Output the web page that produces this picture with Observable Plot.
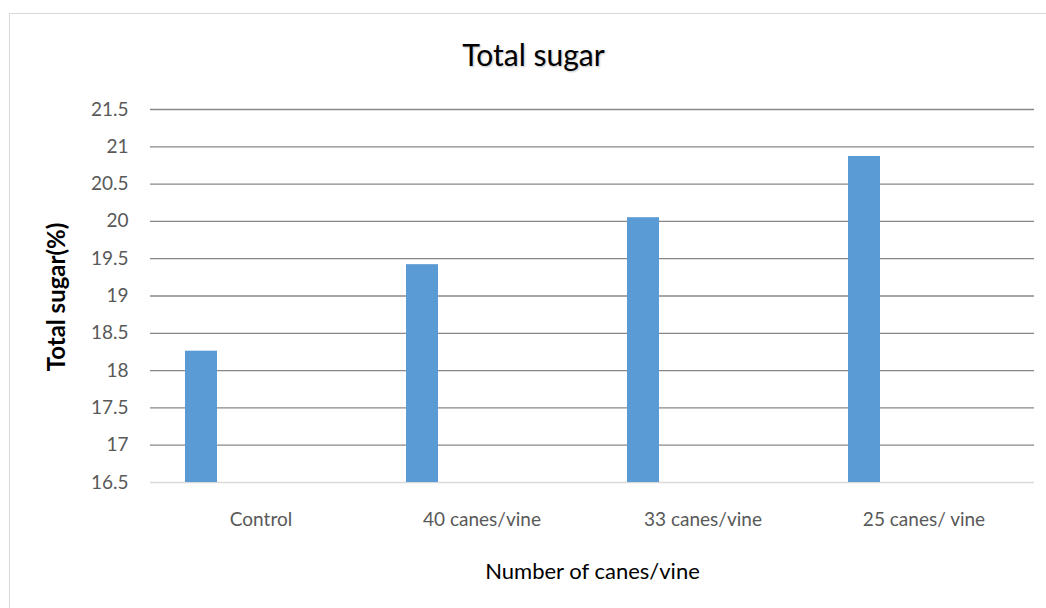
<!DOCTYPE html>
<html>
<head>
<meta charset="utf-8">
<script src="https://cdn.jsdelivr.net/npm/d3@7"></script>
<script src="https://cdn.jsdelivr.net/npm/@observablehq/plot@0.6"></script>
<style>
  body { margin: 0; background: #fff; font-family: Lato, "Open Sans", sans-serif; }
  #wrap { position: relative; width: 1046px; height: 608px; overflow: hidden; background: #fff; }
  #frame { position: absolute; left: 9px; top: 13px; width: 1100px; height: 700px; border: 1.5px solid #d9d9d9; box-sizing: border-box; }
  #title { position: absolute; left: 0; width: 1067px; top: 39px; text-align: center; font-size: 30px; line-height: 1; color: #000; text-shadow: 1px 1px 2px rgba(0,0,0,0.25); z-index: 2; }
  #chart { position: absolute; left: 0; top: 0; z-index: 1; }
</style>
</head>
<body>
<div id="wrap">
  <div id="frame"></div>
  <div id="title">Total sugar</div>
  <div id="chart"></div>
</div>
<script>
const categories = ["Control", "40 canes/vine", "33 canes/vine", "25 canes/ vine"];
const totalSugar = [18.26, 19.42, 20.05, 20.87];
const yTicks = [16.5, 17, 17.5, 18, 18.5, 19, 19.5, 20, 20.5, 21, 21.5];
const yLabel = "Total sugar(%)";
const xLabel = "Number of canes/vine";

const data = categories.map((c, i) => ({ category: c, value: totalSugar[i] }));

const chart = Plot.plot({
  width: 1046,
  height: 608,
  marginTop: 109,
  marginBottom: 126,
  marginLeft: 150,
  marginRight: 12,
  style: { fontFamily: "Lato, 'Open Sans', sans-serif", background: "transparent", overflow: "visible" },
  x: { domain: categories, padding: 0, label: null, axis: null },
  y: { domain: [16.5, 21.5], label: null, axis: null },
  marks: [
    Plot.gridY(yTicks.slice(1), { stroke: "#888888", strokeOpacity: 1, strokeWidth: 1.3 }),
    Plot.ruleY([16.5], { stroke: "#d9d9d9", strokeWidth: 1.6 }),
    Plot.barY(data, { x: "category", y1: 16.5, y2: "value", fill: "#5b9bd5", insetLeft: 35, insetRight: 154 }),
    Plot.axisY(yTicks, { tickSize: 0, tickPadding: 22, tickFormat: d => String(d), fontSize: 19, fill: "#595959", label: null }),
    Plot.axisX({ tickSize: 0, tickPadding: 30, fontSize: 19, fill: "#595959", label: null }),
    Plot.text([yLabel], { frameAnchor: "left", textAnchor: "middle", dx: -93, dy: 1, rotate: -90, fontSize: 24, fontWeight: "bold", fill: "#000", lineAnchor: "middle" }),
    Plot.text([xLabel], { frameAnchor: "bottom", textAnchor: "middle", dy: 89, fontSize: 22, fill: "#000", lineAnchor: "middle" })
  ]
});
document.getElementById("chart").appendChild(chart);
</script>
</body>
</html>
